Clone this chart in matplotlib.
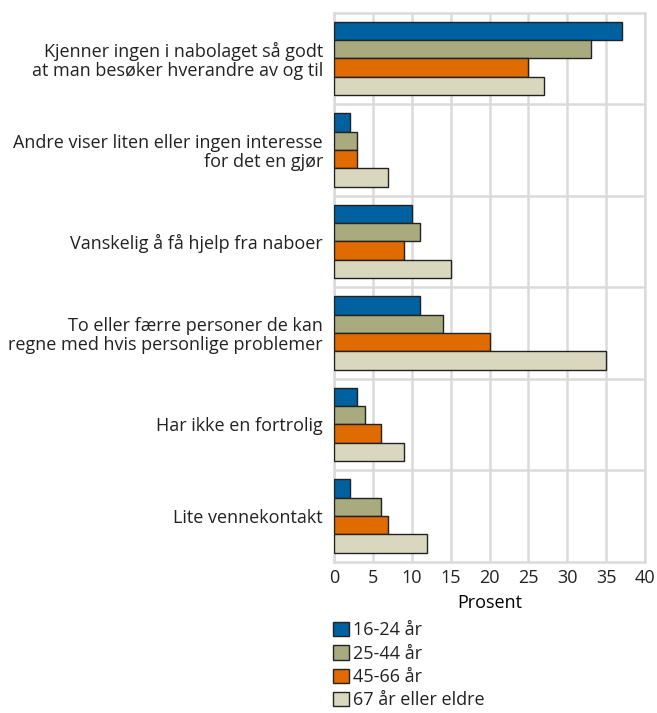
import numpy as np
import matplotlib
matplotlib.use('Agg')
import matplotlib.pyplot as plt
from matplotlib.patches import Patch

plt.rcParams['font.family'] = ['Open Sans', 'DejaVu Sans']
plt.rcParams['font.size'] = 13
plt.rcParams['text.color'] = '#222222'

categories = [
    'Kjenner ingen i nabolaget så godt\nat man besøker hverandre av og til',
    'Andre viser liten eller ingen interesse\nfor det en gjør',
    'Vanskelig å få hjelp fra naboer',
    'To eller færre personer de kan\nregne med hvis personlige problemer',
    'Har ikke en fortrolig',
    'Lite vennekontakt',
]
series = ['16-24 år', '25-44 år', '45-66 år', '67 år eller eldre']
values = {
    '16-24 år': [37, 2, 10, 11, 3, 2],
    '25-44 år': [33, 3, 11, 14, 4, 6],
    '45-66 år': [25, 3, 9, 20, 6, 7],
    '67 år eller eldre': [27, 7, 15, 35, 9, 12],
}
colors = ['#0061a0', '#a9aa7e', '#e06b00', '#d9d8bf']
xticks = [0, 5, 10, 15, 20, 25, 30, 35, 40]

fig = plt.figure(figsize=(6.57, 7.13), dpi=100)
ax = fig.add_axes([334 / 657, 1 - 561.7 / 713, 311 / 657, 549 / 713])

y = np.arange(len(categories))
h = 0.2
for i, s in enumerate(series):
    ax.barh(y + (i - 1.5) * h, values[s], height=h, color=colors[i],
            edgecolor='#222222', linewidth=1, zorder=3)

ax.set_xlim(0, 40)
ax.set_ylim(len(categories) - 0.5, -0.5)
ax.set_xticks(xticks)
ax.set_yticks(y)
ax.set_yticklabels(categories, ha='right', multialignment='right', linespacing=1.05)
ax.set_yticks(y[:-1] + 0.5, minor=True)
ax.tick_params(axis='both', length=0, labelsize=13, colors='#222222')
ax.tick_params(axis='y', which='minor', length=0)
ax.tick_params(axis='y', pad=8)
ax.tick_params(axis='x', pad=5)
ax.grid(axis='x', which='major', color='#dadada', linewidth=1.8, zorder=0)
ax.grid(axis='y', which='minor', color='#dadada', linewidth=1.8, zorder=0)
for sp in ax.spines.values():
    sp.set_color('#dadada')
    sp.set_linewidth(1.8)
ax.set_xlabel('Prosent', fontsize=13, labelpad=5)

handles = [Patch(facecolor=colors[i], edgecolor='#222222', linewidth=1, label=s)
           for i, s in enumerate(series)]
fig.legend(handles=handles, loc='upper left', bbox_to_anchor=(326 / 657, 1 - 614 / 713),
           frameon=False, handlelength=0.85, handleheight=0.85, handletextpad=0.25,
           labelspacing=0.3, borderaxespad=0, fontsize=13)

fig.savefig('out.png', dpi=100)
